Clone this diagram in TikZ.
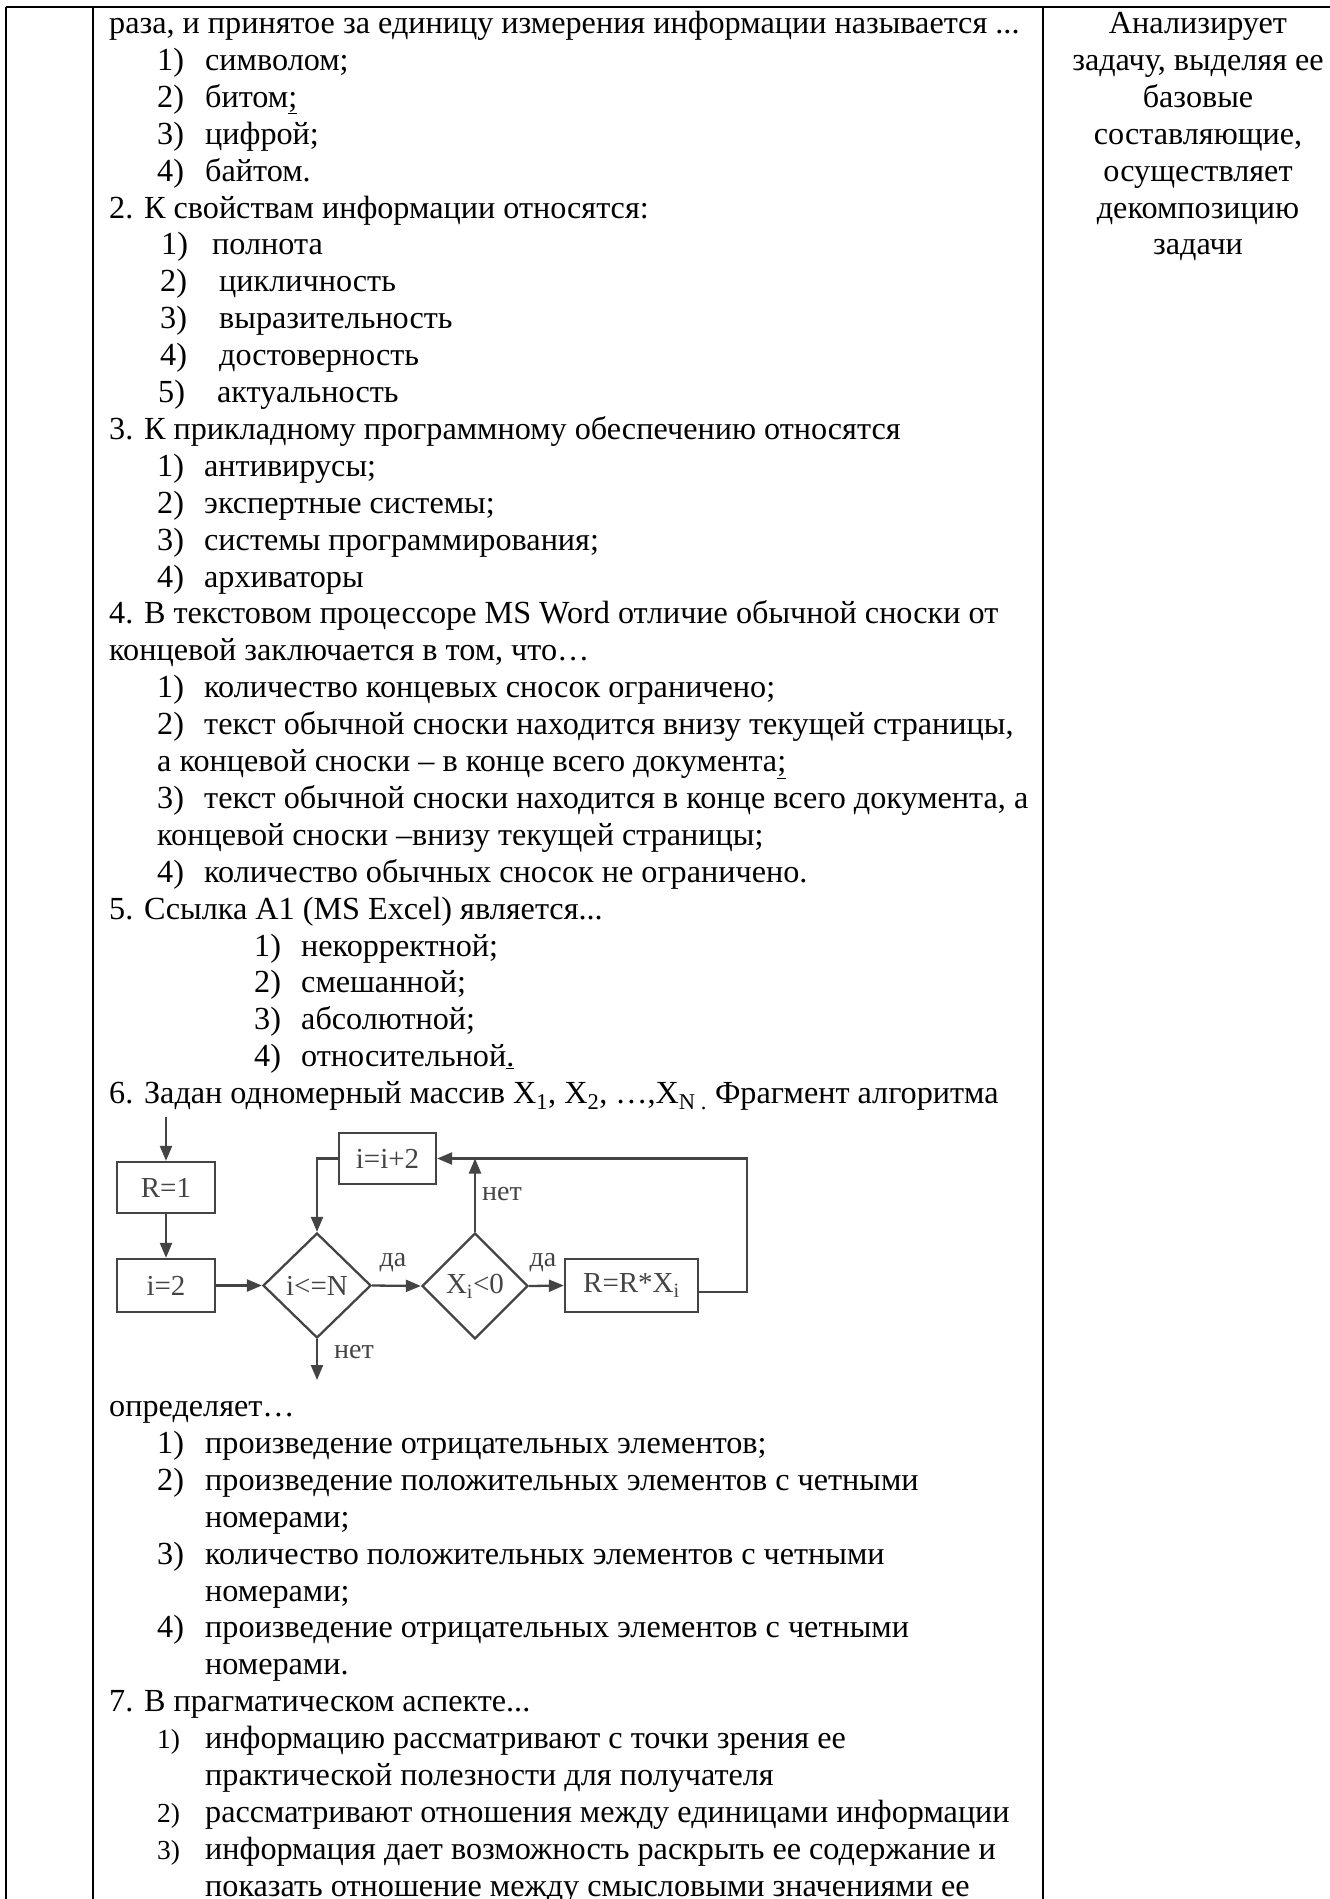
\documentclass[tikz,border=0pt]{standalone}
\usepackage{fontspec}
\setmainfont{Liberation Serif}
\usetikzlibrary{shapes.geometric,arrows.meta}
\definecolor{fcgray}{HTML}{444444}
\tikzset{
  txt/.style={anchor=base west, inner sep=0pt, font=\fontsize{32.2}{37}\selectfont},
  smalltxt/.style={anchor=base west, inner sep=0pt, font=\fontsize{27.5}{37}\selectfont},
  ctxt/.style={anchor=base, inner sep=0pt, font=\fontsize{32.2}{37}\selectfont},
  rule/.style={line width=2.5pt, black},
  fc/.style={draw=fcgray, line width=2.3pt, text=fcgray, font=\fontsize{29}{30}\selectfont, inner sep=0pt},
  fbox/.style={fc, rectangle},
  fdia/.style={fc, diamond},
  farr/.style={draw=fcgray, line width=2.3pt, -{Triangle[length=15pt,width=12pt]}},
  fline/.style={draw=fcgray, line width=2.3pt},
  flab/.style={text=fcgray, font=\fontsize{28}{30}\selectfont, inner sep=0pt}
}
\newcommand\Lrow[4]{\node[txt] (#1) at (#2,#3) {#4};}
\newcommand\Qitem[6]{\node[txt] (#1n) at (#2,#4) {#5};\node[txt] (#1t) at (#3,#4) {#6};}
\newcommand\Qsmall[6]{\node[smalltxt] (#1n) at (#2,#4) {#5};\node[txt] (#1t) at (#3,#4) {#6};}
\begin{document}
\begin{tikzpicture}[x=1pt,y=-1pt]
\useasboundingbox (0,0) rectangle (1330,1899);
% table rules
\draw[rule] (6,7) -- (1330,7);
\draw[rule] (6,7) -- (6,1899);
\draw[rule] (93,7) -- (93,1899);
\draw[rule] (1043,7) -- (1043,1899);

% right column
\node[ctxt] (r0) at (1198,33.5) {Анализирует};
\node[ctxt] (r1) at (1198,70.4) {задачу, выделяя ее};
\node[ctxt] (r2) at (1198,107.3) {базовые};
\node[ctxt] (r3) at (1198,144.2) {составляющие,};
\node[ctxt] (r4) at (1198,181.1) {осуществляет};
\node[ctxt] (r5) at (1198,218.0) {декомпозицию};
\node[ctxt] (r6) at (1198,254.9) {задачи};

% question 1 (end)
\Lrow{a0}{109}{33.5}{раза, и принятое за единицу измерения информации называется ...}
\Qitem{a1}{157}{205}{70.4}{1)}{символом;}
\Qitem{a2}{157}{205}{107.3}{2)}{битом\underline{;}}
\Qitem{a3}{157}{205}{144.2}{3)}{цифрой;}
\Qitem{a4}{157}{205}{181.1}{4)}{байтом.}
% question 2
\Lrow{b0}{109}{218.0}{2. К свойствам информации относятся:}
\Qitem{b1}{161}{212}{254.9}{1)}{полнота}
\Qitem{b2}{160}{219}{291.8}{2)}{цикличность}
\Qitem{b3}{160}{219}{328.7}{3)}{выразительность}
\Qitem{b4}{160}{219}{365.6}{4)}{достоверность}
\Qitem{b5}{158}{217}{402.5}{5)}{актуальность}
% question 3
\Lrow{c0}{109}{439.4}{3. К прикладному программному обеспечению относятся}
\Qitem{c1}{157}{204}{476.3}{1)}{антивирусы;}
\Qitem{c2}{157}{204}{513.2}{2)}{экспертные системы;}
\Qitem{c3}{157}{204}{550.1}{3)}{системы программирования;}
\Qitem{c4}{157}{204}{587.0}{4)}{архиваторы}
% question 4
\Lrow{d0}{109}{623.9}{4. В текстовом процессоре MS Word отличие обычной сноски от}
\Lrow{d0b}{109}{660.8}{концевой заключается в том, что…}
\Qitem{d1}{157}{204}{697.7}{1)}{количество концевых сносок ограничено;}
\Qitem{d2}{157}{204}{734.6}{2)}{текст обычной сноски находится внизу текущей страницы,}
\Lrow{d2b}{157}{771.5}{а концевой сноски – в конце всего документа\underline{;}}
\Qitem{d3}{157}{204}{808.4}{3)}{текст обычной сноски находится в конце всего документа, а}
\Lrow{d3b}{157}{845.3}{концевой сноски –внизу текущей страницы;}
\Qitem{d4}{157}{204}{882.2}{4)}{количество обычных сносок не ограничено.}
% question 5
\Lrow{e0}{109}{919.1}{5. Ссылка A1 (MS Excel) является...}
\Qitem{e1}{254}{301}{956.0}{1)}{некорректной;}
\Qitem{e2}{254}{301}{992.9}{2)}{смешанной;}
\Qitem{e3}{254}{301}{1029.8}{3)}{абсолютной;}
\Qitem{e4}{254}{301}{1066.7}{4)}{относительной\underline{.}}
% question 6
\Lrow{f0}{109}{1103.6}{6. Задан одномерный массив X\textsubscript{1}, X\textsubscript{2}, …,X\textsubscript{N .} Фрагмент алгоритма}

% flowchart
\coordinate (fin) at (166,1117);
\node[fbox, minimum width=98pt, minimum height=51pt] (fr1) at (166,1187.5) {R=1};
\node[fbox, minimum width=98pt, minimum height=53pt] (fi2) at (166,1285.5) {i=2};
\node[fdia, minimum width=108pt, minimum height=105pt] (fd1) at (317,1285.5) {i<=N};
\node[fbox, minimum width=97pt, minimum height=51pt] (fip) at (387.5,1158.5) {i=i+2};
\node[fdia, minimum width=106pt, minimum height=106pt] (fd2) at (475,1286) {X\textsubscript{i}<0};
\node[fbox, minimum width=133pt, minimum height=53pt] (frr) at (631.5,1285.5) {R=R*X\textsubscript{i}};
\coordinate (fout) at (317,1380);
\coordinate (fup) at (475,1158.5);
\coordinate (fc1) at (747,1292);
\coordinate (fc2) at (747,1158.5);
\coordinate (frre) at (698,1292);

\draw[farr] (fin) -- (fr1.north);
\draw[farr] (fr1.south) -- (fi2.north);
\draw[farr] (fi2.east) -- (fd1.west);
\draw[farr] (fd1.east) -- (fd2.west);
\draw[farr] (fd2.east) -- (frr.west);
\draw[farr] (fd2.north) -- (fup);
\draw[farr] (frre) -- (fc1) -- (fc2) -- (fip.east);
\draw[farr] (fip.west) -| (fd1.north);
\draw[farr] (fd1.south) -- (fout);
\node[flab] (lda1) at (393,1263) {да};
\node[flab] (lda2) at (543,1263) {да};
\node[flab] (lnet1) at (502,1194) {нет};
\node[flab] (lnet2) at (354,1352) {нет};

% after flowchart
\Lrow{g0}{109}{1416.5}{определяет…}
\Qitem{g1}{157}{205}{1453.4}{1)}{произведение отрицательных элементов;}
\Qitem{g2}{157}{205}{1490.3}{2)}{произведение положительных элементов с четными}
\Lrow{g2b}{205}{1527.2}{номерами;}
\Qitem{g3}{157}{205}{1564.1}{3)}{количество положительных элементов с четными}
\Lrow{g3b}{205}{1601.0}{номерами;}
\Qitem{g4}{157}{205}{1637.9}{4)}{произведение отрицательных элементов с четными}
\Lrow{g4b}{205}{1674.8}{номерами.}
% question 7
\Lrow{h0}{109}{1711.7}{7. В прагматическом аспекте...}
\Qsmall{h1}{157}{205}{1748.6}{1)}{информацию рассматривают с точки зрения ее}
\Lrow{h1b}{205}{1785.5}{практической полезности для получателя}
\Qsmall{h2}{157}{205}{1822.4}{2)}{рассматривают отношения между единицами информации}
\Qsmall{h3}{157}{205}{1859.3}{3)}{информация дает возможность раскрыть ее содержание и}
\Lrow{h3b}{205}{1896.2}{показать отношение между смысловыми значениями ее}
\end{tikzpicture}
\end{document}
